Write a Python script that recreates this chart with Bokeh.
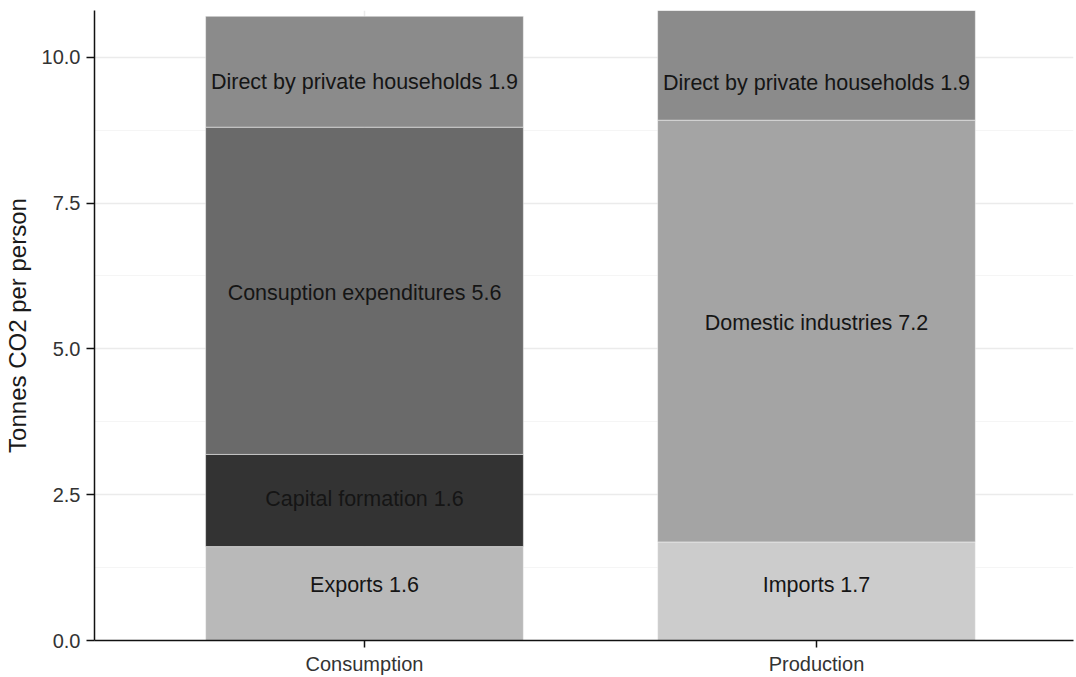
from bokeh.plotting import figure
from bokeh.models import ColumnDataSource, FixedTicker, Range1d
from bokeh.core.properties import value
from bokeh.embed import file_html
from bokeh.resources import INLINE

# ---- data ----
categories = ["Consumption", "Production"]
consumption_sectors = ["Exports", "Capital formation", "Consuption expenditures",
                       "Direct by private households"]
consumption_values = [1.61, 1.58, 5.61, 1.90]
consumption_label_y = [0.96, 2.43, 5.95, 9.57]   # label positions
production_sectors = ["Imports", "Domestic industries", "Direct by private households"]
production_values = [1.69, 7.23, 1.88]
production_label_y = [0.96, 5.44, 9.56]
sector_names = ["Capital formation", "Consuption expenditures", "Direct by private households",
                "Domestic industries", "Exports", "Imports"]
sector_colors = ["#333333", "#6A6A6A", "#8B8B8B", "#A4A4A4", "#B9B9B9", "#CCCCCC"]
y_ticks = [0, 2.5, 5, 7.5, 10]
y_minor = [1.25, 3.75, 6.25, 8.75]
y_tick_labels = ["0.0", "2.5", "5.0", "7.5", "10.0"]

color_of = dict(zip(sector_names, sector_colors))

xs, bottoms, tops, ly, colors, labels = [], [], [], [], [], []
for i, (secs, vals, lys) in enumerate([(consumption_sectors, consumption_values, consumption_label_y),
                                       (production_sectors, production_values, production_label_y)]):
    base = 0.0
    for s, v, yy in zip(secs, vals, lys):
        xs.append(i + 1)
        bottoms.append(base)
        tops.append(base + v)
        ly.append(yy)
        colors.append(color_of[s])
        labels.append(f"{s} {v:.1f}")
        base += v

src = ColumnDataSource(dict(x=xs, bottom=bottoms, top=tops, ly=ly, color=colors, label=labels))
ymax = max(tops)

FONT = "Liberation Sans"

p = figure(width=1076, height=677, output_backend="svg", toolbar_location=None,
           x_range=Range1d(0.4027, 2.5686), y_range=Range1d(0, ymax),
           min_border_left=94, min_border_right=3, min_border_top=10, min_border_bottom=36)
p.outline_line_color = None
p.background_fill_color = "white"

p.vbar(x="x", bottom="bottom", top="top", width=0.703, fill_color="color",
       line_color="white", line_alpha=0.45, line_width=1, source=src)
p.text(x="x", y="ly", text="label", source=src, text_align="center",
       text_baseline="middle", text_font=value(FONT), text_font_size="21.5px",
       text_color="#151515")

# axes
p.yaxis.ticker = FixedTicker(ticks=y_ticks, minor_ticks=y_minor)
p.yaxis.major_label_overrides = {t: l for t, l in zip(y_ticks, y_tick_labels)}
p.xaxis.ticker = FixedTicker(ticks=[1, 2])
p.xaxis.major_label_overrides = {1: categories[0], 2: categories[1]}

for ax in (p.xaxis[0], p.yaxis[0]):
    ax.axis_line_color = "#111111"
    ax.axis_line_width = 1.5
    ax.major_tick_line_color = "#111111"
    ax.major_tick_line_width = 1.5
    ax.major_tick_in = 0
    ax.minor_tick_line_color = None
    ax.major_label_text_font = FONT
    ax.major_label_text_font_size = "20px"
    ax.major_label_text_color = "#333333"

p.yaxis.major_tick_out = 8
p.xaxis.major_tick_out = 7
p.yaxis.major_label_standoff = 6
p.xaxis.major_label_standoff = 5
p.yaxis.axis_label = "Tonnes CO2 per person"
p.yaxis.axis_label_text_font = FONT
p.yaxis.axis_label_text_font_size = "24px"
p.yaxis.axis_label_text_font_style = "normal"
p.yaxis.axis_label_text_color = "#1a1a1a"
p.yaxis.axis_label_standoff = 8

# grids
p.ygrid.ticker = FixedTicker(ticks=y_ticks, minor_ticks=y_minor)
p.ygrid.grid_line_color = "#EBEBEB"
p.ygrid.grid_line_width = 1.5
p.ygrid.minor_grid_line_color = "#F5F5F5"
p.ygrid.minor_grid_line_width = 1
p.xgrid.ticker = FixedTicker(ticks=[1, 2])
p.xgrid.grid_line_color = "#EBEBEB"
p.xgrid.grid_line_width = 1.5

open("out.html", "w").write(file_html(p, INLINE))
